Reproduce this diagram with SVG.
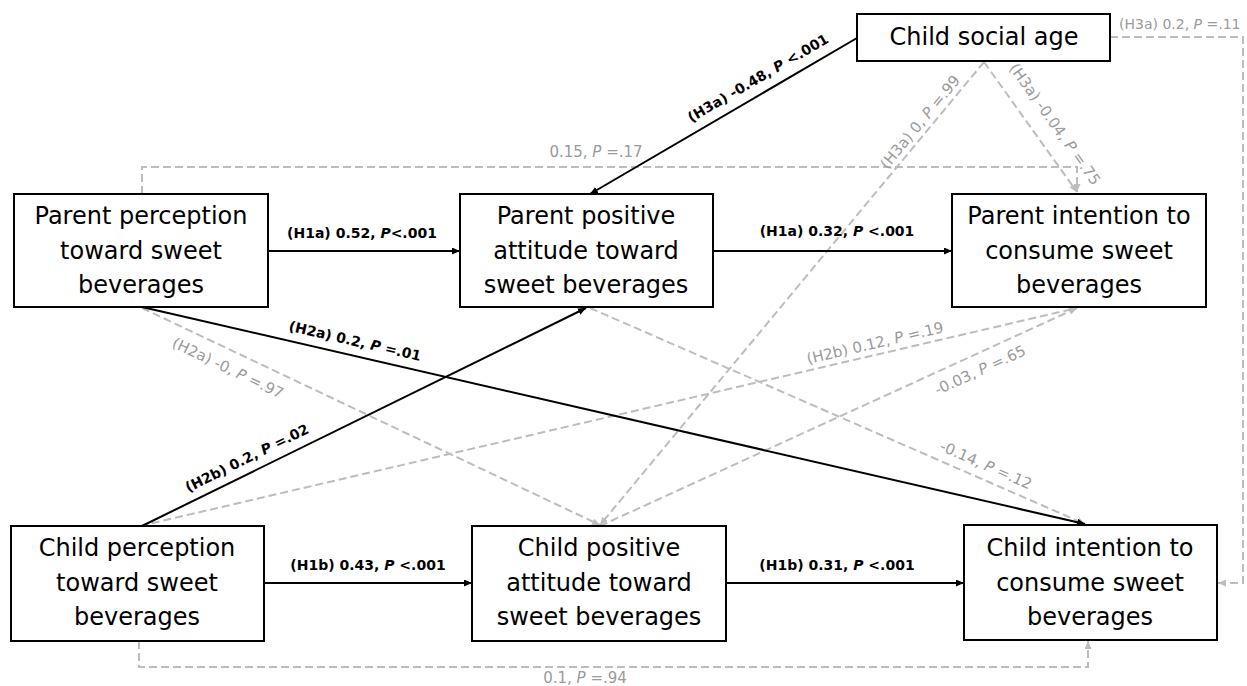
<svg xmlns="http://www.w3.org/2000/svg" width="1247" height="686" viewBox="0 0 1247 686">
<defs>
<marker id="ab" viewBox="0 0 8 7" refX="8" refY="3.5" markerWidth="8" markerHeight="7" markerUnits="userSpaceOnUse" orient="auto"><path d="M0,0 L8,3.5 L0,7 z" fill="#000"/></marker>
<marker id="ag" viewBox="0 0 8 7" refX="8" refY="3.5" markerWidth="8" markerHeight="7" markerUnits="userSpaceOnUse" orient="auto"><path d="M0,0 L8,3.5 L0,7 z" fill="#bdbdbd"/></marker>
</defs>
<style>
.box{fill:#fff;stroke:#000;stroke-width:2}
.nt{font-family:"DejaVu Sans",sans-serif;font-size:24px;fill:#000;text-anchor:middle}
.s{fill:none;stroke:#000;stroke-width:2}
.d{fill:none;stroke:#bdbdbd;stroke-width:2;stroke-dasharray:8 4}
.lb{font-family:"DejaVu Sans",sans-serif;font-size:14px;font-weight:bold;fill:#000}
.lg{font-family:"DejaVu Sans",sans-serif;font-size:15px;fill:#9a9a9a}
.i{font-style:italic}
</style>
<rect width="1247" height="686" fill="#fff"/>
<g id="connectors">
<path class="d" d="M142,194 V167 H1077 V192" marker-end="url(#ag)"/>
<path class="d" d="M984,62 L1077,192" marker-end="url(#ag)"/>
<path class="d" d="M984,62 L600,525" marker-end="url(#ag)"/>
<path class="d" d="M1110,37 H1243 V583 H1218" marker-end="url(#ag)"/>
<path class="d" d="M142,308 L600,525" marker-end="url(#ag)"/>
<path class="d" d="M590,308 L1085,524" marker-end="url(#ag)"/>
<path class="d" d="M140,526 L1077,308" marker-end="url(#ag)"/>
<path class="d" d="M600,526 L1077,308" marker-end="url(#ag)"/>
<path class="d" d="M139,641 V667 H1088 V641" marker-end="url(#ag)"/>
<path class="s" d="M268,251 H460" marker-end="url(#ab)"/>
<path class="s" d="M713,251 H952" marker-end="url(#ab)"/>
<path class="s" d="M857,38 L590,194" marker-end="url(#ab)"/>
<path class="s" d="M142,307 L1085,524" marker-end="url(#ab)"/>
<path class="s" d="M142,526 L586,308" marker-end="url(#ab)"/>
<path class="s" d="M264,583 H472" marker-end="url(#ab)"/>
<path class="s" d="M726,583 H964" marker-end="url(#ab)"/>
<text class="lb" x="362" y="238" text-anchor="middle">(H1a) 0.52, <tspan class="i">P</tspan>&lt;.001</text>
<text class="lb" x="837" y="236" text-anchor="middle">(H1a) 0.32, <tspan class="i">P</tspan> &lt;.001</text>
<text class="lb" x="368" y="570" text-anchor="middle">(H1b) 0.43, <tspan class="i">P</tspan> &lt;.001</text>
<text class="lb" x="837" y="570" text-anchor="middle">(H1b) 0.31, <tspan class="i">P</tspan> &lt;.001</text>
<text class="lb" text-anchor="middle" dy="0.35em" transform="translate(758,78) rotate(-30.3)">(H3a) -0.48, <tspan class="i">P</tspan> &lt;.001</text>
<text class="lb" text-anchor="middle" dy="0.35em" transform="translate(355,341) rotate(13)">(H2a) 0.2, <tspan class="i">P</tspan> =.01</text>
<text class="lb" text-anchor="middle" dy="0.35em" transform="translate(247,458) rotate(-26.3)">(H2b) 0.2, <tspan class="i">P</tspan> =.02</text>
<text class="lg" text-anchor="middle" dy="0.35em" transform="translate(228,368) rotate(25.6)">(H2a) -0, <tspan class="i">P</tspan> =.97</text>
<text class="lg" text-anchor="middle" dy="0.35em" transform="translate(875,343) rotate(-13.2)">(H2b) 0.12, <tspan class="i">P</tspan> =.19</text>
<text class="lg" text-anchor="middle" dy="0.35em" transform="translate(980,370) rotate(-24.7)">-0.03, <tspan class="i">P</tspan> =.65</text>
<text class="lg" text-anchor="middle" dy="0.35em" transform="translate(986,465) rotate(23.8)">-0.14, <tspan class="i">P</tspan> =.12</text>
<text class="lg" text-anchor="middle" dy="0.35em" transform="translate(920,122) rotate(-50.5)">(H3a) 0, <tspan class="i">P</tspan> =.99</text>
<text class="lg" text-anchor="middle" dy="0.35em" transform="translate(1055,124) rotate(54.6)">(H3a) -0.04, <tspan class="i">P</tspan> =.75</text>
<text class="lg" x="596" y="157" text-anchor="middle">0.15, <tspan class="i">P</tspan> =.17</text>
<text class="lg" x="1119" y="29" style="font-size:14px">(H3a) 0.2, <tspan class="i">P</tspan> =.11</text>
<text class="lg" x="585" y="683" text-anchor="middle">0.1, <tspan class="i">P</tspan> =.94</text>
</g>
<g id="child-social-age">
<rect class="box" x="857" y="14" width="253" height="47"/>
<text class="nt" x="984" y="45">Child social age</text>
</g>
<g id="parent-perception">
<rect class="box" x="14" y="194" width="254" height="113"/>
<text class="nt" x="141" y="224">Parent perception</text>
<text class="nt" x="141" y="259">toward sweet</text>
<text class="nt" x="141" y="293">beverages</text>
</g>
<g id="parent-attitude">
<rect class="box" x="460" y="194" width="253" height="113"/>
<text class="nt" x="586" y="224">Parent positive</text>
<text class="nt" x="586" y="259">attitude toward</text>
<text class="nt" x="586" y="293">sweet beverages</text>
</g>
<g id="parent-intention">
<rect class="box" x="952" y="194" width="254" height="113"/>
<text class="nt" x="1079" y="224">Parent intention to</text>
<text class="nt" x="1079" y="259">consume sweet</text>
<text class="nt" x="1079" y="293">beverages</text>
</g>
<g id="child-perception">
<rect class="box" x="11" y="526" width="253" height="115"/>
<text class="nt" x="137" y="556">Child perception</text>
<text class="nt" x="137" y="591">toward sweet</text>
<text class="nt" x="137" y="625">beverages</text>
</g>
<g id="child-attitude">
<rect class="box" x="472" y="526" width="254" height="115"/>
<text class="nt" x="599" y="556">Child positive</text>
<text class="nt" x="599" y="591">attitude toward</text>
<text class="nt" x="599" y="625">sweet beverages</text>
</g>
<g id="child-intention">
<rect class="box" x="964" y="525" width="253" height="115"/>
<text class="nt" x="1090" y="556">Child intention to</text>
<text class="nt" x="1090" y="591">consume sweet</text>
<text class="nt" x="1090" y="625">beverages</text>
</g>
</svg>
